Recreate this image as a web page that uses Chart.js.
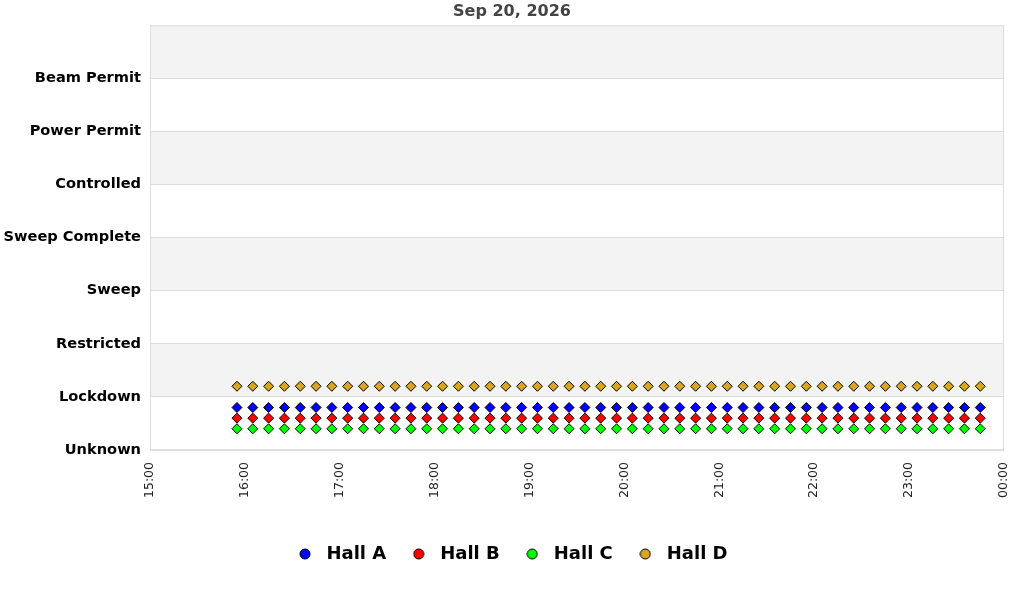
<!DOCTYPE html>
<html lang="en">
<head>
  <meta charset="UTF-8">
  <title>Hall States</title>
  <script src="https://cdn.jsdelivr.net/npm/chart.js"></script>
  <style>
    html, body { margin: 0; padding: 0; background: #fff; }
    #wrap { width: 1024px; height: 600px; }
  </style>
</head>
<body>
  <div id="wrap"><canvas id="stateChart"></canvas></div>

  <script>
    const chartTitle = "Sep 20, 2026";
    const stateNames = ["Unknown", "Lockdown", "Restricted", "Sweep", "Sweep Complete", "Controlled", "Power Permit", "Beam Permit"];
    const xTickLabels = ["15:00", "16:00", "17:00", "18:00", "19:00", "20:00", "21:00", "22:00", "23:00", "00:00"];
    const hallNames = ["Hall A", "Hall B", "Hall C", "Hall D"];
    const hallColors = ["#0000ff", "#ff0000", "#00ff00", "#daa520"];

    const sampleTimes = [
      "15:55", "16:05", "16:15", "16:25", "16:35", "16:45", "16:55", "17:05",
      "17:15", "17:25", "17:35", "17:45", "17:55", "18:05", "18:15", "18:25",
      "18:35", "18:45", "18:55", "19:05", "19:15", "19:25", "19:35", "19:45",
      "19:55", "20:05", "20:15", "20:25", "20:35", "20:45", "20:55", "21:05",
      "21:15", "21:25", "21:35", "21:45", "21:55", "22:05", "22:15", "22:25",
      "22:35", "22:45", "22:55", "23:05", "23:15", "23:25", "23:35", "23:45"
    ];

    // state index per sample (1 = Lockdown)
    const hallA = [1,1,1,1,1,1,1,1,1,1,1,1,1,1,1,1,1,1,1,1,1,1,1,1,1,1,1,1,1,1,1,1,1,1,1,1,1,1,1,1,1,1,1,1,1,1,1,1];
    const hallB = [1,1,1,1,1,1,1,1,1,1,1,1,1,1,1,1,1,1,1,1,1,1,1,1,1,1,1,1,1,1,1,1,1,1,1,1,1,1,1,1,1,1,1,1,1,1,1,1];
    const hallC = [1,1,1,1,1,1,1,1,1,1,1,1,1,1,1,1,1,1,1,1,1,1,1,1,1,1,1,1,1,1,1,1,1,1,1,1,1,1,1,1,1,1,1,1,1,1,1,1];
    const hallD = [1,1,1,1,1,1,1,1,1,1,1,1,1,1,1,1,1,1,1,1,1,1,1,1,1,1,1,1,1,1,1,1,1,1,1,1,1,1,1,1,1,1,1,1,1,1,1,1];
    const hallStates = [hallA, hallB, hallC, hallD];

    // halls are drawn slightly apart so they do not overlap
    const hallOffsets = [-0.2, -0.4, -0.6, 0.2];

    const startHour = 15;
    function toMinutes(t) {
      const [h, m] = t.split(":").map(Number);
      let hh = h - startHour;
      if (hh < 0) hh += 24;
      return hh * 60 + m;
    }

    // small round markers for the legend (points on the plot are diamonds)
    function legendDot(color) {
      const c = document.createElement("canvas");
      c.width = 12;
      c.height = 12;
      const g = c.getContext("2d");
      g.beginPath();
      g.arc(6, 6, 5, 0, Math.PI * 2);
      g.fillStyle = color;
      g.fill();
      g.strokeStyle = "#000";
      g.lineWidth = 1;
      g.stroke();
      return c;
    }
    const legendDots = hallColors.map(legendDot);

    const datasets = hallNames.map((name, i) => ({
      label: name,
      data: sampleTimes.map((t, j) => ({ x: toMinutes(t), y: hallStates[i][j] + hallOffsets[i] })),
      backgroundColor: hallColors[i],
      borderColor: "#000",
      borderWidth: 1,
      pointStyle: "rectRot",
      pointRadius: 5,
      showLine: false
    }));

    // alternating grey bands + light frame round the plot
    const bandPlugin = {
      id: "bands",
      afterLayout(chart) {
        // centre legend and title on the whole canvas, not on the padded area
        chart.legend.left = 16;
        chart.titleBlock.left = 20;
      },
      beforeDraw(chart) {
        const { ctx, chartArea: a, scales: { y } } = chart;
        ctx.save();
        for (let v = 1; v < stateNames.length; v += 2) {
          const top = y.getPixelForValue(v + 1);
          const bot = y.getPixelForValue(v);
          ctx.fillStyle = "#f3f3f3";
          ctx.fillRect(a.left, top, a.right - a.left, bot - top);
        }
        ctx.restore();
      },
      beforeDatasetsDraw(chart) {
        const { ctx, chartArea: a } = chart;
        ctx.save();
        ctx.strokeStyle = "#dddddd";
        ctx.lineWidth = 1;
        ctx.strokeRect(a.left + 0.5, a.top + 0.5, a.right - a.left - 1, a.bottom - a.top - 1);
        ctx.restore();
      }
    };

    Chart.defaults.font.family = "'DejaVu Sans', sans-serif";

    new Chart(document.getElementById("stateChart"), {
      type: "scatter",
      data: { datasets },
      plugins: [bandPlugin],
      options: {
        responsive: true,
        maintainAspectRatio: false,
        animation: false,
        layout: { padding: { left: 0, right: 20, top: 0, bottom: 27 } },
        plugins: {
          title: {
            display: true,
            text: chartTitle,
            color: "#444",
            font: { size: 16, weight: "bold" },
            padding: { top: 2, bottom: 4 }
          },
          legend: {
            position: "bottom",
            labels: {
              usePointStyle: true,
              pointStyleWidth: 25,
              boxHeight: 7,
              padding: 20,
              color: "#000",
              font: { size: 18, weight: "bold" },
              generateLabels(chart) {
                const items = Chart.defaults.plugins.legend.labels.generateLabels(chart);
                items.forEach((it, i) => { it.pointStyle = legendDots[i]; });
                return items;
              }
            }
          },
          tooltip: { enabled: false }
        },
        scales: {
          x: {
            type: "linear",
            min: 0,
            max: (xTickLabels.length - 1) * 60,
            afterBuildTicks(scale) {
              scale.ticks = xTickLabels.map((_, i) => ({ value: i * 60 }));
            },
            ticks: {
              minRotation: 90,
              maxRotation: 90,
              autoSkip: false,
              padding: 12,
              color: "#222",
              font: { size: 12.5 },
              callback: (v, i) => xTickLabels[i]
            },
            grid: { display: false, drawTicks: false },
            border: { display: false },
            afterFit(scale) {
              scale.height = 75;
              scale.paddingLeft = 0;
              scale.paddingRight = 0;
            }
          },
          y: {
            type: "linear",
            min: 0,
            max: stateNames.length,
            afterBuildTicks(scale) {
              scale.ticks = stateNames.map((_, i) => ({ value: i }));
            },
            ticks: {
              autoSkip: false,
              padding: 9,
              color: "#000",
              font: { size: 14.6, weight: "bold" },
              callback: (v, i) => stateNames[i]
            },
            grid: { color: "#dddddd", drawTicks: false },
            border: { display: false },
            afterFit(scale) { scale.width = 150; }
          }
        }
      }
    });
  </script>
</body>
</html>
